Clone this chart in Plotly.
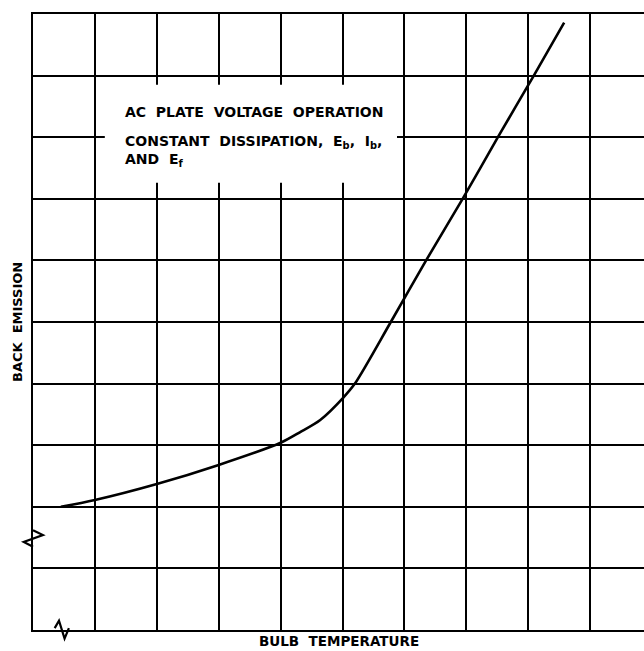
import plotly.graph_objects as go

# Curve data (grid units)
bulb_temperature = [0.45, 1.0, 2.0, 3.0, 4.0, 4.31, 4.64, 5.01, 5.2, 5.78, 6.35, 6.94, 7.51, 8.09, 8.58]
back_emission    = [2.00, 2.11, 2.37, 2.68, 3.04, 3.21, 3.41, 3.77, 4.00, 5.00, 6.00, 7.00, 8.00, 9.00, 9.86]

x_range = [0, 9.87]
y_range = [0, 10]
W, H = 644, 651
ml, mr, mt, mb = 33, 0, 14, 21

fig = go.Figure()
fig.add_trace(go.Scatter(
    x=bulb_temperature, y=back_emission, mode="lines",
    line=dict(color="black", width=2.6, shape="spline", smoothing=0.8),
    showlegend=False, hoverinfo="skip"))

FONT = "DejaVu Sans"

fig.update_layout(
    width=W, height=H,
    margin=dict(l=ml, r=mr, t=mt, b=mb),
    paper_bgcolor="white", plot_bgcolor="white",
    xaxis=dict(range=x_range, dtick=1, tick0=0, showgrid=True, gridcolor="black",
               gridwidth=1.5, showticklabels=False, ticks="", zeroline=False,
               showline=True, linecolor="black", linewidth=2.2, mirror=True),
    yaxis=dict(range=y_range, dtick=1, tick0=0, showgrid=True, gridcolor="black",
               gridwidth=1.5, showticklabels=False, ticks="", zeroline=False,
               showline=True, linecolor="black", linewidth=2.2),
)

# white label box that interrupts the grid
fig.add_shape(type="rect", xref="x", yref="y", x0=1.16, x1=5.88, y0=7.26, y1=8.85,
              fillcolor="white", line=dict(width=0), layer="above")

fig.add_annotation(xref="x", yref="y", x=1.45, y=8.41, xanchor="left", yanchor="middle",
                   text="AC  PLATE  VOLTAGE  OPERATION", showarrow=False,
                   font=dict(family=FONT, size=14, color="black", weight="bold"))
fig.add_annotation(xref="x", yref="y", x=1.45, y=7.78, xanchor="left", yanchor="middle",
                   text="CONSTANT  DISSIPATION,  E<sub>b</sub>,  I<sub>b</sub>,<br>AND  E<sub>f</sub>",
                   showarrow=False, align="left",
                   font=dict(family=FONT, size=14, color="black", weight="bold"))

# axis titles
fig.add_annotation(xref="paper", yref="paper", x=0.5, y=-mb / (H - mt - mb), yanchor="bottom",
                   text="BULB  TEMPERATURE", showarrow=False,
                   font=dict(family=FONT, size=13.5, color="black", weight="bold"))
fig.add_annotation(xref="paper", yref="paper", x=-16 / (W - ml - mr), y=0.5, xanchor="center",
                   text="BACK  EMISSION", textangle=-90, showarrow=False,
                   font=dict(family=FONT, size=13, color="black", weight="bold"))

# axis-break marks (decorations), positioned in data units and converted to paper
def to_paper(xu, yu):
    return ((xu - x_range[0]) / (x_range[1] - x_range[0]),
            (yu - y_range[0]) / (y_range[1] - y_range[0]))

def path(pts):
    s = ""
    for i, (a, b) in enumerate(pts):
        px, py = to_paper(a, b)
        s += ("M" if i == 0 else "L") + f"{px:.5f},{py:.5f} "
    return s

ybreak = 1.48
ypts = [(0, ybreak + 0.14), (0.16, ybreak + 0.06), (-0.15, ybreak - 0.05), (0, ybreak - 0.13)]
xbreak = 0.47
xpts = [(xbreak - 0.12, 0.03), (xbreak - 0.05, 0.15), (xbreak + 0.04, -0.14), (xbreak + 0.11, 0.03)]
for pts in (ypts, xpts):
    fig.add_shape(type="path", xref="paper", yref="paper", path=path(pts),
                  line=dict(color="black", width=2.2), layer="above")

fig.write_html("out.html", config={"displayModeBar": False},
               post_script="document.body.style.margin='0px';document.body.style.overflow='hidden';")
